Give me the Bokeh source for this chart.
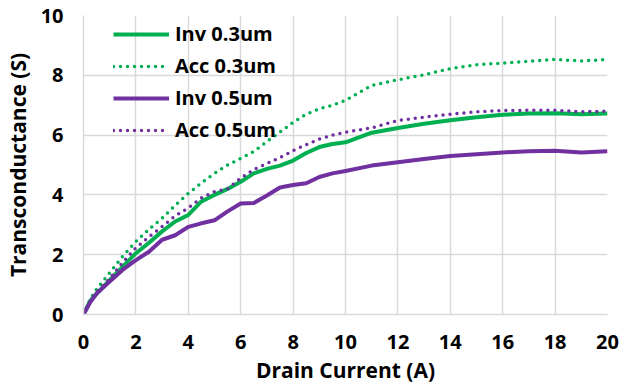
from bokeh.plotting import figure
from bokeh.models import Range1d, FixedTicker, Legend, LegendItem
from bokeh.embed import file_html
from bokeh.resources import INLINE

x = [0, 0.25, 0.5, 1, 1.5, 2, 2.5, 3, 3.5, 4, 4.5, 5, 5.5, 6, 6.5, 7, 7.5, 8, 8.5, 9, 9.5,
     10, 11, 12, 13, 14, 15, 16, 17, 18, 19, 20]
inv_03 = [0, 0.45, 0.7, 1.15, 1.6, 2.05, 2.4, 2.78, 3.11, 3.33, 3.78, 4.0, 4.2, 4.44, 4.72, 4.87, 4.98, 5.15, 5.4, 5.6, 5.7,
          5.76, 6.08, 6.24, 6.38, 6.5, 6.6, 6.68, 6.72, 6.73, 6.7, 6.72]
acc_03 = [0, 0.5, 0.85, 1.4, 1.95, 2.44, 2.85, 3.22, 3.65, 4.05, 4.4, 4.72, 5.0, 5.22, 5.45, 5.78, 6.1, 6.43, 6.7, 6.88, 7.0,
          7.16, 7.66, 7.85, 8.02, 8.22, 8.35, 8.41, 8.47, 8.53, 8.48, 8.53]
inv_05 = [0, 0.4, 0.7, 1.1, 1.5, 1.82, 2.1, 2.5, 2.65, 2.93, 3.05, 3.15, 3.45, 3.71, 3.73, 3.98, 4.25, 4.33, 4.39, 4.6, 4.72,
          4.8, 4.98, 5.09, 5.2, 5.3, 5.36, 5.42, 5.46, 5.48, 5.42, 5.46]
acc_05 = [0, 0.45, 0.75, 1.2, 1.75, 2.23, 2.6, 2.94, 3.3, 3.56, 3.9, 4.11, 4.2, 4.56, 4.85, 5.05, 5.25, 5.48, 5.68, 5.87, 6.0,
          6.1, 6.24, 6.49, 6.6, 6.7, 6.78, 6.82, 6.83, 6.83, 6.78, 6.8]
x_ticks = [0, 2, 4, 6, 8, 10, 12, 14, 16, 18, 20]
y_ticks = [0, 2, 4, 6, 8, 10]
labels = ["Inv 0.3um", "Acc 0.3um", "Inv 0.5um", "Acc 0.5um"]

GREEN = "#00B050"
PURPLE = "#7030A0"
FONT = "Open Sans"

p = figure(width=637, height=390, output_backend="svg", toolbar_location=None,
           x_range=Range1d(0, 20), y_range=Range1d(0, 10),
           min_border_left=82, min_border_right=30, min_border_top=15, min_border_bottom=76)
p.outline_line_color = None

r1 = p.line(x, inv_03, line_color=GREEN, line_width=4, line_join="round")
r2 = p.line(x, acc_03, line_color=GREEN, line_width=3.5, line_dash="0 7", line_cap="round")
r3 = p.line(x, inv_05, line_color=PURPLE, line_width=4, line_join="round")
r4 = p.line(x, acc_05, line_color=PURPLE, line_width=3.5, line_dash="0 7", line_cap="round")

for ax in (p.xaxis[0], p.yaxis[0]):
    ax.major_tick_line_color = None
    ax.minor_tick_line_color = None
    ax.axis_line_color = "#D9D9D9"
    ax.axis_line_width = 1.5
    ax.major_label_text_font = FONT
    ax.major_label_text_font_style = "bold"
    ax.major_label_text_font_size = "20px"
    ax.major_label_text_color = "#000000"
    ax.axis_label_text_font = FONT
    ax.axis_label_text_font_style = "bold"
    ax.axis_label_text_font_size = "21px"
    ax.axis_label_text_color = "#000000"

p.xaxis[0].ticker = FixedTicker(ticks=x_ticks)
p.yaxis[0].ticker = FixedTicker(ticks=y_ticks)
p.xaxis[0].axis_label = "Drain Current (A)"
p.yaxis[0].axis_label = "Transconductance (S)"
p.xaxis[0].major_label_standoff = 14
p.yaxis[0].major_label_standoff = 14
p.xaxis[0].axis_label_standoff = 4
p.yaxis[0].axis_label_standoff = 6

p.xgrid.ticker = FixedTicker(ticks=x_ticks)
p.ygrid.ticker = FixedTicker(ticks=y_ticks)
p.xgrid.grid_line_color = "#D9D9D9"
p.ygrid.grid_line_color = "#D9D9D9"
p.xgrid.grid_line_width = 1.5
p.ygrid.grid_line_width = 1.5

legend = Legend(items=[LegendItem(label=labels[0], renderers=[r1]),
                       LegendItem(label=labels[1], renderers=[r2]),
                       LegendItem(label=labels[2], renderers=[r3]),
                       LegendItem(label=labels[3], renderers=[r4])],
                location=(30, 171))
legend.background_fill_alpha = 0
legend.border_line_color = None
legend.glyph_width = 56
legend.glyph_height = 24
legend.label_standoff = 6
legend.spacing = 5
legend.padding = 0
legend.margin = 0
legend.label_text_font = FONT
legend.label_text_font_style = "bold"
legend.label_text_font_size = "20px"
legend.label_text_color = "#000000"
p.add_layout(legend, "center")

open("out.html", "w").write(file_html(p, INLINE))
